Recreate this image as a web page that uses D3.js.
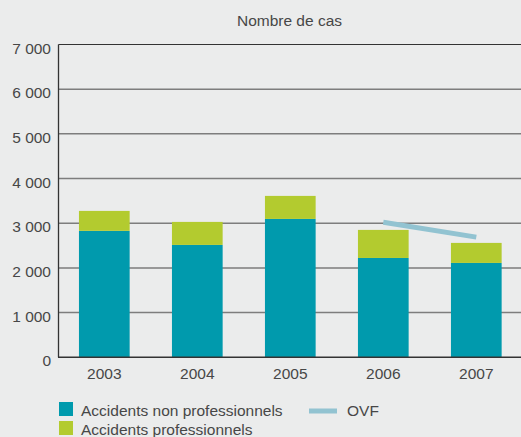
<!DOCTYPE html>
<html>
<head>
<meta charset="utf-8">
<script src="https://cdn.jsdelivr.net/npm/d3@7"></script>
<style>
  body { margin: 0; background: #ebecec; }
  svg { display: block; font-family: "Liberation Sans", Arial, sans-serif; }
</style>
</head>
<body>
<svg id="chart" width="521" height="437"></svg>
<script>
var years = ["2003", "2004", "2005", "2006", "2007"];
var nonPro = [2830, 2515, 3097, 2223, 2112];
var pro = [446, 515, 515, 628, 448];
var ovfYears = ["2006", "2007"];
var ovf = [3023, 2690];
var yTicks = [0, 1000, 2000, 3000, 4000, 5000, 6000, 7000];

var svg = d3.select("#chart");
var textColor = "#474747";
var fs = 15.5;

var x = d3.scaleBand().domain(years).range([58.5, 522.1]).paddingInner(0.455).paddingOuter(0.22);
var y = d3.scaleLinear().domain([0, 7000]).range([357.3, 44.5]);

// grid lines
svg.append("g").selectAll("line")
  .data(yTicks.filter(function(d){ return d > 0 && d < 7000; }))
  .enter().append("line")
  .attr("x1", 58.5).attr("x2", 521)
  .attr("y1", function(d){ return y(d); })
  .attr("y2", function(d){ return y(d); })
  .attr("stroke", "#7d7d7d").attr("stroke-width", 1.5);

// top line
svg.append("line")
  .attr("x1", 58.5).attr("x2", 521)
  .attr("y1", y(7000)).attr("y2", y(7000))
  .attr("stroke", "#333").attr("stroke-width", 1);

// stacked bars
var bars = svg.append("g");
years.forEach(function(yr, i) {
  bars.append("rect")
    .attr("x", x(yr)).attr("width", x.bandwidth())
    .attr("y", y(nonPro[i])).attr("height", y(0) - y(nonPro[i]))
    .attr("fill", "#009aad");
  bars.append("rect")
    .attr("x", x(yr)).attr("width", x.bandwidth())
    .attr("y", y(nonPro[i] + pro[i])).attr("height", y(nonPro[i]) - y(nonPro[i] + pro[i]))
    .attr("fill", "#b3cb2f");
});

// OVF line
var line = d3.line()
  .x(function(d, i){ return x(ovfYears[i]) + x.bandwidth() / 2; })
  .y(function(d){ return y(d); });
svg.append("path")
  .attr("d", line(ovf))
  .attr("fill", "none")
  .attr("stroke", "#92c3d1")
  .attr("stroke-width", 5);

// axes lines
svg.append("line")
  .attr("x1", 58.5).attr("x2", 58.5).attr("y1", y(7000)).attr("y2", y(0))
  .attr("stroke", "#333").attr("stroke-width", 1.3);
svg.append("line")
  .attr("x1", 58).attr("x2", 521).attr("y1", y(0)).attr("y2", y(0))
  .attr("stroke", "#333").attr("stroke-width", 1.5);

// y tick labels
svg.append("g").selectAll("text")
  .data(yTicks).enter().append("text")
  .attr("x", 51)
  .attr("y", function(d){ return y(d) + 9; })
  .attr("text-anchor", "end")
  .attr("font-size", fs)
  .attr("fill", textColor)
  .text(function(d){ return d === 0 ? "0" : d3.format(",")(d).replace(",", " "); });

// x labels
svg.append("g").selectAll("text")
  .data(years).enter().append("text")
  .attr("x", function(d){ return x(d) + x.bandwidth() / 2; })
  .attr("y", 379)
  .attr("text-anchor", "middle")
  .attr("font-size", fs)
  .attr("fill", textColor)
  .text(function(d){ return d; });

// title
svg.append("text")
  .attr("x", 289.5).attr("y", 26)
  .attr("text-anchor", "middle")
  .attr("font-size", fs)
  .attr("fill", textColor)
  .text("Nombre de cas");

// legend
var legend = svg.append("g");
legend.append("rect").attr("x", 59).attr("y", 402).attr("width", 14).attr("height", 14).attr("fill", "#009aad");
legend.append("text").attr("x", 81).attr("y", 416).attr("font-size", fs).attr("fill", textColor).text("Accidents non professionnels");
legend.append("rect").attr("x", 59).attr("y", 421).attr("width", 14).attr("height", 14).attr("fill", "#b3cb2f");
legend.append("text").attr("x", 81).attr("y", 435).attr("font-size", fs).attr("fill", textColor).text("Accidents professionnels");
legend.append("line").attr("x1", 309).attr("x2", 337).attr("y1", 411).attr("y2", 411)
  .attr("stroke", "#92c3d1").attr("stroke-width", 5);
legend.append("text").attr("x", 347).attr("y", 416).attr("font-size", fs).attr("fill", textColor).text("OVF");
</script>
</body>
</html>
